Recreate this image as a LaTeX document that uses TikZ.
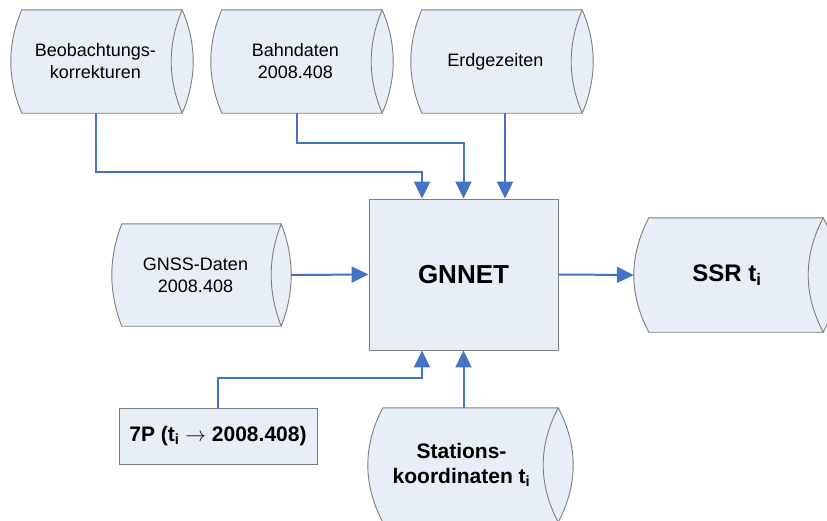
\documentclass[tikz,border=0pt]{standalone}
\usepackage{fontspec}
\setmainfont{Liberation Sans}
\usetikzlibrary{arrows.meta,calc}

\definecolor{boxfill}{RGB}{232,238,247}
\definecolor{boxline}{RGB}{125,125,125}
\definecolor{flowblue}{RGB}{68,114,196}

\newcommand\fsreg{\fontsize{18}{22}\selectfont}
\newcommand\fsbold{\fontsize{21}{25}\selectfont\bfseries}
\newcommand\idx[1]{\textsubscript{#1}}

\tikzset{
  storeline/.style={draw=boxline, fill=boxfill, line width=0.9pt},
  procbox/.style={draw=boxline, fill=boxfill, line width=0.9pt, inner sep=0pt},
  flow/.style={draw=flowblue, line width=2pt, -{Triangle[width=16pt,length=17pt]}},
}

% Horizontal data-store drum: name, cx, cy, width, height, arc depth, font, text
% Each end is a shallow parabolic arc of depth #6, written as a cubic curve.
\newcommand\drum[8]{%
  \path (#2,#3) node[inner sep=0pt, minimum width=#4pt, minimum height=#5pt] (#1) {};
  \path[storeline] (#1.north west) -- (#1.north east)
     .. controls ($(#1.north east)!0.3333!(#1.south east)+(4*#6/3,0)$)
        and ($(#1.south east)!0.3333!(#1.north east)+(4*#6/3,0)$) .. (#1.south east)
     -- (#1.south west)
     .. controls ($(#1.south west)!0.3333!(#1.north west)-(4*#6/3,0)$)
        and ($(#1.north west)!0.3333!(#1.south west)-(4*#6/3,0)$) .. cycle;
  \draw[draw=boxline, line width=0.9pt] (#1.north east)
     .. controls ($(#1.north east)!0.3333!(#1.south east)-(4*#6/3,0)$)
        and ($(#1.south east)!0.3333!(#1.north east)-(4*#6/3,0)$) .. (#1.south east);
  \node[font=#7, align=center, inner sep=0pt] (#1-text) at ([xshift={-0.6*#6pt}]#1.center) {#8};
}

\begin{document}
\begin{tikzpicture}[x=1pt, y=-1pt]
  \useasboundingbox (0,0) rectangle (827,520);
  \clip (0,0) rectangle (827,520);

  % input stores
  \drum{obs}{102}{61.5}{160}{103}{11}{\fsreg}{Beobachtungs-\\korrekturen}
  \drum{bahn}{302}{61.5}{160}{103}{11}{\fsreg}{Bahndaten\\2008.408}
  \drum{erd}{502}{61.5}{160}{103}{11}{\fsreg}{Erdgezeiten}
  \drum{gnss}{201.5}{275}{159}{102}{10}{\fsreg}{GNSS-Daten\\2008.408}

  % output store
  \drum{ssr}{736}{275}{174}{114}{15}{\fontsize{24}{28}\selectfont\bfseries}{SSR t\idx{i}}

  % station coordinates
  \drum{st}{470.5}{465}{175}{114}{15}{\fsbold}{Stations-\\koordinaten t\idx{i}}

  % processing
  \node[procbox, minimum width=189pt, minimum height=151pt,
        font={\fontsize{26}{30}\selectfont\bfseries}] (gnnet) at (463.5,274.5) {GNNET};
  \node[procbox, minimum width=198pt, minimum height=56pt, font=\fsbold]
        (trafo) at (218,436) {7P (t\idx{i} $\rightarrow$ 2008.408)};

  % data flow
  \draw[flow] ([xshift=-6pt]obs.south) -- ++(0,59) -| ([xshift=-41.5pt]gnnet.north);
  \draw[flow] ([xshift=-5pt]bahn.south) -- ++(0,30) -| (gnnet.north);
  \draw[flow] ([xshift=41.5pt]gnnet.north |- erd.south) -- ([xshift=41.5pt]gnnet.north);
  \draw[flow] ($(gnss.east)+(10,0)$) -- (gnnet.west);
  \draw[flow] (gnnet.east) -- ($(ssr.west)-(15,0)$);
  \draw[flow] (trafo.north) -- ++(0,-30) -| ([xshift=-41.5pt]gnnet.south);
  \draw[flow] (gnnet.south |- st.north) -- (gnnet.south);
\end{tikzpicture}
\end{document}
